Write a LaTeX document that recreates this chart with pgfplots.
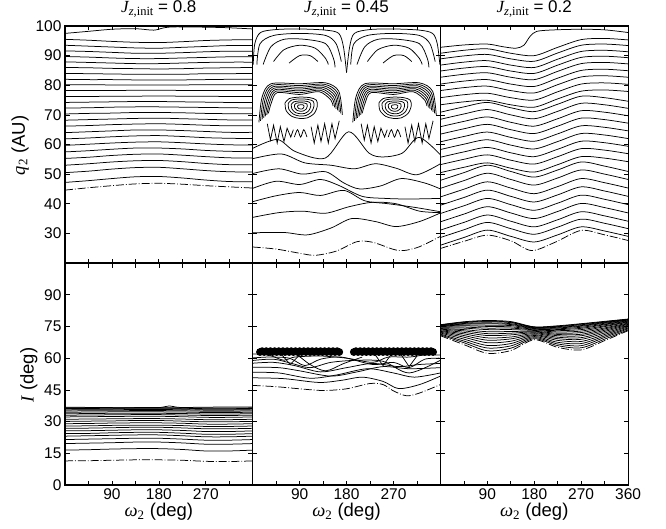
\documentclass[border=0pt]{standalone}
\usepackage{fontspec}
\setmainfont{Liberation Sans}
\newfontfamily\tms{Liberation Serif}
\usepackage{pgfplots}
\pgfplotsset{compat=1.18}
\newcommand{\jt}[1]{\fontsize{17}{19}\selectfont{\tms\itshape J}{\tms\fontsize{12.5}{13}\selectfont\raisebox{-0.6ex}{\itshape z\upshape ,init}} = #1}
\newcommand{\lb}{\fontsize{18.5}{20}\selectfont}
\pgfplotsset{
  panel/.style={
    scale only axis, width=187.7pt, anchor=north west,
    xmin=0, xmax=360, xtick={0,45,...,360},
    tick align=inside, major tick length=4.5pt,
    axis line style={line width=1.1pt},
    every tick/.style={black, line width=0.7pt},
    every tick label/.append style={font=\fontsize{15.5}{17}\selectfont},
    every axis title/.append style={yshift=-1pt},
    every axis x label/.append style={yshift=3pt},
    every axis y label/.append style={xshift=-1pt},
    /pgf/number format/assume math mode=true,
    cycle list={{black,solid,mark=none}},
    every axis plot/.append style={black, line width=0.75pt, smooth},
  },
  toprow/.style={panel, height=237pt, ymin=20, ymax=100, ytick={20,30,...,100}, xticklabels={}},
  botrow/.style={panel, height=222pt, ymin=0, ymax=105, ytick={0,15,...,90}},
  dd/.style={dash pattern=on 8pt off 2pt on 0.8pt off 2pt},
}
\begin{document}
\begin{tikzpicture}
\path[use as bounding box] (0,0) rectangle (666pt,-529pt);
% ---------------- A1 ----------------
\begin{axis}[toprow, at={(65pt,-26pt)}, yticklabels={,30,40,50,60,70,80,90,100},
  ylabel={\lb{\tms\itshape q}{\tms\textsubscript{2}} (AU)}, title={\jt{0.8}}]
\addplot coordinates {(0,47.2)(45,47.8)(90,48.5)(135,49.1)(180,49.2)(225,48.7)(270,48.0)(315,47.5)(360,47.4)};
\addplot coordinates {(0,50.5)(45,51.0)(90,51.7)(135,52.2)(180,52.3)(225,51.8)(270,51.2)(315,50.8)(360,50.7)};
\addplot coordinates {(0,53.0)(45,53.5)(90,54.1)(135,54.5)(180,54.6)(225,54.2)(270,53.6)(315,53.2)(360,53.2)};
\addplot coordinates {(0,55.3)(45,55.7)(90,56.3)(135,56.7)(180,56.8)(225,56.4)(270,55.9)(315,55.5)(360,55.4)};
\addplot coordinates {(0,57.5)(45,57.9)(90,58.4)(135,58.8)(180,58.8)(225,58.5)(270,58.0)(315,57.7)(360,57.6)};
\addplot coordinates {(0,59.7)(45,60.1)(90,60.5)(135,60.8)(180,60.9)(225,60.6)(270,60.2)(315,59.9)(360,59.8)};
\addplot coordinates {(0,61.9)(45,62.2)(90,62.6)(135,62.9)(180,63.0)(225,62.7)(270,62.3)(315,62.1)(360,62.0)};
\addplot coordinates {(0,64.0)(45,64.3)(90,64.6)(135,64.9)(180,64.9)(225,64.7)(270,64.4)(315,64.1)(360,64.1)};
\addplot coordinates {(0,66.2)(45,66.4)(90,66.7)(135,66.9)(180,67.0)(225,66.8)(270,66.5)(315,66.3)(360,66.3)};
\addplot coordinates {(0,68.2)(45,68.4)(90,68.6)(135,68.8)(180,68.9)(225,68.7)(270,68.5)(315,68.3)(360,68.3)};
\addplot coordinates {(0,70.3)(45,70.5)(90,70.6)(135,70.8)(180,70.8)(225,70.7)(270,70.5)(315,70.4)(360,70.4)};
\addplot coordinates {(0,72.3)(45,72.4)(90,72.6)(135,72.7)(180,72.7)(225,72.6)(270,72.5)(315,72.4)(360,72.3)};
\addplot coordinates {(0,74.2)(45,74.3)(90,74.4)(135,74.5)(180,74.5)(225,74.4)(270,74.3)(315,74.2)(360,74.2)};
\addplot coordinates {(0,76.2)(45,76.2)(90,76.3)(135,76.3)(180,76.4)(225,76.3)(270,76.3)(315,76.2)(360,76.2)};
\addplot coordinates {(0,78.2)(90,78.25)(180,78.3)(270,78.2)(360,78.2)};
\addplot coordinates {(0,80.2)(45,80.2)(90,80.1)(135,80.1)(180,80.1)(225,80.1)(270,80.2)(315,80.2)(360,80.2)};
\addplot coordinates {(0,82.0)(45,81.9)(90,81.9)(135,81.8)(180,81.8)(225,81.8)(270,81.9)(315,82.0)(360,82.0)};
\addplot coordinates {(0,84.0)(45,83.9)(90,83.8)(135,83.7)(180,83.7)(225,83.7)(270,83.9)(315,83.9)(360,84.0)};
\addplot coordinates {(0,86.0)(45,85.9)(90,85.7)(135,85.6)(180,85.5)(225,85.6)(270,85.8)(315,85.9)(360,86.0)};
\addplot coordinates {(0,87.9)(45,87.7)(90,87.5)(135,87.3)(180,87.3)(225,87.5)(270,87.7)(315,87.8)(360,87.8)};
\addplot coordinates {(0,89.7)(45,89.5)(90,89.2)(135,89.0)(180,89.0)(225,89.2)(270,89.4)(315,89.6)(360,89.6)};
\addplot coordinates {(0,91.6)(45,91.4)(90,91.1)(135,90.8)(180,90.8)(225,91.0)(270,91.3)(315,91.5)(360,91.5)};
\addplot coordinates {(0,93.5)(45,93.2)(90,92.9)(135,92.6)(180,92.5)(225,92.8)(270,93.1)(315,93.4)(360,93.4)};
\addplot coordinates {(0,95.5)(45,95.2)(90,94.8)(135,94.5)(180,94.4)(225,94.7)(270,95.1)(315,95.3)(360,95.4)};
\addplot coordinates {(0,97.5)(45,98.2)(90,98.9)(135,99.1)(170,98.6)(190,99.4)(210,99.7)(270,99.6)(315,99.4)(360,99.0)};
\addplot[dd] coordinates {(0,44.6)(45,45.4)(90,46.1)(135,46.7)(180,46.9)(225,46.6)(270,46.1)(315,45.7)(360,45.3)};
\end{axis}
% ---------------- A2 ----------------
\begin{axis}[toprow, at={(252.7pt,-26pt)}, yticklabels={}, title={\jt{0.45}}]
\addplot coordinates {(0,30.2)(60,30.3)(105,29.5)(150,31.8)(190,35.0)(235,34.0)(275,32.3)(320,34.0)(360,36.9)};
\addplot coordinates {(0,35.4)(50,37.0)(95,37.5)(140,36.8)(185,39.0)(230,40.5)(275,40.0)(320,37.5)(360,37.0)};
\addplot coordinates {(0,40.7)(45,42.7)(90,43.8)(130,42.8)(175,44.5)(215,41.0)(260,40.0)(310,38.8)(360,37.3)};
\addplot coordinates {(0,45.2)(45,47.6)(90,46.5)(130,48.2)(165,46.2)(210,42.5)(255,41.8)(300,41.6)(360,41.8)};
\addplot coordinates {(0,50.2)(50,51.8)(95,50.0)(140,50.8)(175,47.0)(205,45.0)(245,46.0)(285,48.5)(330,47.0)(360,45.0)};
\addplot coordinates {(0,55.2)(55,56.8)(100,53.8)(150,53.0)(195,51.8)(235,53.5)(275,52.0)(315,49.8)(360,53.5)};
\addplot coordinates {(0,58.7)(47,61.7)(82,57.6)(139,55.4)(184,64.3)(223,57.1)(250,55.8)(287,57.1)(319,62.4)(360,56.5)};
\addplot[dd] coordinates {(0,25.4)(45,24.7)(90,23.3)(120,22.6)(160,24.0)(200,27.2)(230,27.0)(270,24.6)(290,24.2)(320,25.5)(360,29.0)};
\addplot[sharp plot] coordinates {(28,67)(34,61.5)(40,66.5)(47,60.5)(53,66)(60,61)(66,65.5)(73,62.5)(78,65)};
\addplot[sharp plot] coordinates {(112,66)(118,60.5)(125,66.5)(131,61)(138,67)(145,60.5)(152,67)(158,62)(166,68)};
\addplot coordinates {(80,62.5)(86,65)(92,62.5)(98,65)(104,62.5)};
\addplot[sharp plot] coordinates {(208,67)(214,61.5)(220,66.5)(227,60.5)(233,66)(240,61)(246,65.5)(253,62.5)(258,65)};
\addplot[sharp plot] coordinates {(292,66)(298,60.5)(305,66.5)(311,61)(318,67)(325,60.5)(332,67)(338,62)(346,68)};
\addplot coordinates {(260,62.5)(266,65)(272,62.5)(278,65)(284,62.5)};
\addplot coordinates {(62,74)(70,75.5)(90,76)(110,75.8)(122,75)(124,73)(118,70.5)(105,69)(90,68.8)(75,69.5)(64,71.5)(62,74)};
\addplot coordinates {(68,73.8)(74.4,75.0)(90.4,75.4)(106.4,75.2)(116,74.6)(117.6,73.0)(112.8,71.0)(102.4,69.8)(90.4,69.6)(78.4,70.2)(69.6,71.8)(68,73.8)};
\addplot coordinates {(74,73.5)(78.8,74.4)(90.8,74.7)(102.8,74.6)(110,74.1)(111.2,72.9)(107.6,71.4)(99.8,70.5)(90.8,70.4)(81.8,70.8)(75.2,72.0)(74,73.5)};
\addplot coordinates {(80,73.3)(83.2,73.9)(91.2,74.1)(99.2,74.0)(104,73.7)(104.8,72.9)(102.4,71.9)(97.2,71.3)(91.2,71.2)(85.2,71.5)(80.8,72.3)(80,73.3)};
\addplot coordinates {(86,73.0)(87.6,73.3)(91.6,73.4)(95.6,73.4)(98,73.2)(98.4,72.8)(97.2,72.3)(94.6,72.0)(91.6,72.0)(88.6,72.1)(86.4,72.5)(86,73.0)};
\addplot coordinates {(242,74)(250,75.5)(270,76)(290,75.8)(302,75)(304,73)(298,70.5)(285,69)(270,68.8)(255,69.5)(244,71.5)(242,74)};
\addplot coordinates {(248,73.8)(254.4,75.0)(270.4,75.4)(286.4,75.2)(296,74.6)(297.6,73.0)(292.8,71.0)(282.4,69.8)(270.4,69.6)(258.4,70.2)(249.6,71.8)(248,73.8)};
\addplot coordinates {(254,73.5)(258.8,74.4)(270.8,74.7)(282.8,74.6)(290,74.1)(291.2,72.9)(287.6,71.4)(279.8,70.5)(270.8,70.4)(261.8,70.8)(255.2,72.0)(254,73.5)};
\addplot coordinates {(260,73.3)(263.2,73.9)(271.2,74.1)(279.2,74.0)(284,73.7)(284.8,72.9)(282.4,71.9)(277.2,71.3)(271.2,71.2)(265.2,71.5)(260.8,72.3)(260,73.3)};
\addplot coordinates {(266,73.0)(267.6,73.3)(271.6,73.4)(275.6,73.4)(278,73.2)(278.4,72.8)(277.2,72.3)(274.6,72.0)(271.6,72.0)(268.6,72.1)(266.4,72.5)(266,73.0)};
\addplot coordinates {(12,67.5)(18,76)(35,80.5)(90,80.5)(140,80.8)(165,78)(172,70)};
\addplot coordinates {(15,68)(21,75.7)(37,80)(90,79.9)(138,80.3)(162.5,77.5)(169,70.5)};
\addplot coordinates {(18,68.5)(24,75.4)(39,79.5)(90,79.3)(136,79.8)(160,77)(166,71)};
\addplot coordinates {(21,69)(27,75.1)(41,79)(90,78.7)(134,79.3)(157.5,76.5)(163,71.5)};
\addplot coordinates {(24,69.5)(30,74.8)(43,78.5)(90,78.1)(132,78.8)(155,76)(160,72)};
\addplot coordinates {(27,70)(33,74.5)(45,78)(90,77.5)(130,78.3)(152.5,75.5)(157,72.5)};
\addplot coordinates {(30,70.5)(36,74.2)(47,77.5)(90,76.9)(128,77.8)(150,75)(154,73)};
\addplot coordinates {(192,67.5)(198,76)(215,80.5)(270,80.5)(320,80.8)(345,78)(352,70)};
\addplot coordinates {(195,68)(201,75.7)(217,80)(270,79.9)(318,80.3)(342.5,77.5)(349,70.5)};
\addplot coordinates {(198,68.5)(204,75.4)(219,79.5)(270,79.3)(316,79.8)(340,77)(346,71)};
\addplot coordinates {(201,69)(207,75.1)(221,79)(270,78.7)(314,79.3)(337.5,76.5)(343,71.5)};
\addplot coordinates {(204,69.5)(210,74.8)(223,78.5)(270,78.1)(312,78.8)(335,76)(340,72)};
\addplot coordinates {(207,70)(213,74.5)(225,78)(270,77.5)(310,78.3)(332.5,75.5)(337,72.5)};
\addplot coordinates {(210,70.5)(216,74.2)(227,77.5)(270,76.9)(308,77.8)(330,75)(334,73)};
\addplot coordinates {(1,87)(4,94)(15,97.8)(45,98.8)(90,99)(140,98.6)(165,97.5)(174,93)(180,84.3)};
\addplot coordinates {(180,84.3)(186,93)(195,97.5)(225,98.8)(270,99)(320,98.6)(345,97.5)(354,94)(359,87)};
\addplot coordinates {(8,87)(14,94)(40,96.8)(90,97.5)(140,96.8)(160,94)(170,88)};
\addplot coordinates {(20,87)(35,93)(60,95.5)(100,95.5)(140,94)(155,89)(158,86)};
\addplot coordinates {(40,88)(60,92)(90,93.5)(120,92.5)(140,89)(145,87)};
\addplot coordinates {(70,87.5)(90,90)(110,90)(125,88)};
\addplot coordinates {(188,87)(194,94)(220,96.8)(270,97.5)(320,96.8)(340,94)(350,88)};
\addplot coordinates {(200,87)(215,93)(240,95.5)(280,95.5)(320,94)(335,89)(338,86)};
\addplot coordinates {(220,88)(240,92)(270,93.5)(300,92.5)(320,89)(325,87)};
\addplot coordinates {(250,87.5)(270,90)(290,90)(305,88)};
\end{axis}
% ---------------- A3 ----------------
\begin{axis}[toprow, at={(440.4pt,-26pt)}, yticklabels={}, title={\jt{0.2}}]
\addplot coordinates {(0,26.0)(45,28.6)(90,31.1)(135,29.0)(180,27.1)(225,29.5)(270,32.2)(315,30.8)(360,29.0)};
\addplot coordinates {(0,28.6)(45,31.2)(90,33.7)(135,31.6)(180,29.7)(225,32.1)(270,34.8)(315,33.4)(360,31.6)};
\addplot coordinates {(0,31.1)(45,33.7)(90,36.2)(135,34.1)(180,32.2)(225,34.6)(270,37.3)(315,35.9)(360,34.1)};
\addplot coordinates {(0,33.9)(45,36.5)(90,39.0)(135,36.9)(180,35.0)(225,37.4)(270,40.1)(315,38.7)(360,36.9)};
\addplot coordinates {(0,36.7)(45,39.3)(90,41.8)(135,39.7)(180,37.8)(225,40.2)(270,42.9)(315,41.5)(360,39.7)};
\addplot coordinates {(0,39.5)(45,42.1)(90,44.6)(135,42.5)(180,40.6)(225,43.0)(270,45.7)(315,44.3)(360,42.5)};
\addplot coordinates {(0,42.3)(45,44.9)(90,47.4)(135,45.3)(180,43.4)(225,45.8)(270,48.5)(315,47.1)(360,45.3)};
\addplot coordinates {(0,45.2)(45,47.8)(90,50.3)(135,48.2)(180,46.3)(225,48.7)(270,51.4)(315,50.0)(360,48.2)};
\addplot coordinates {(0,47.9)(45,50.5)(90,53.0)(135,50.9)(180,49.0)(225,51.4)(270,54.1)(315,52.7)(360,50.9)};
\addplot coordinates {(0,50.5)(45,52.3)(90,53.8)(135,52.0)(180,50.7)(225,53.2)(270,55.9)(315,55.4)(360,54.2)};
\addplot coordinates {(0,53.2)(45,55.0)(90,56.5)(135,54.7)(180,53.4)(225,55.9)(270,58.6)(315,58.1)(360,56.9)};
\addplot coordinates {(0,55.7)(45,57.5)(90,59.0)(135,57.2)(180,55.9)(225,58.4)(270,61.1)(315,60.6)(360,59.4)};
\addplot coordinates {(0,58.3)(45,60.1)(90,61.6)(135,59.8)(180,58.5)(225,61.0)(270,63.7)(315,63.2)(360,62.0)};
\addplot coordinates {(0,60.9)(45,62.7)(90,64.2)(135,62.4)(180,61.1)(225,63.6)(270,66.3)(315,65.8)(360,64.6)};
\addplot coordinates {(0,63.5)(45,65.3)(90,66.8)(135,65.0)(180,63.7)(225,66.2)(270,68.9)(315,68.4)(360,67.2)};
\addplot coordinates {(0,66.0)(45,67.8)(90,69.3)(135,67.5)(180,66.2)(225,68.7)(270,71.4)(315,70.9)(360,69.7)};
\addplot coordinates {(0,68.5)(45,70.3)(90,71.8)(135,70.0)(180,68.7)(225,71.2)(270,73.9)(315,73.4)(360,72.2)};
\addplot coordinates {(0,70.9)(45,72.7)(90,74.2)(135,72.4)(180,71.1)(225,73.6)(270,76.3)(315,75.8)(360,74.6)};
\addplot coordinates {(0,73.4)(45,74.4)(90,74.9)(135,73.4)(180,72.6)(225,75.4)(270,78.0)(315,78.4)(360,77.9)};
\addplot coordinates {(0,75.8)(45,76.8)(90,77.3)(135,75.8)(180,75.0)(225,77.8)(270,80.4)(315,80.8)(360,80.3)};
\addplot coordinates {(0,78.2)(45,79.2)(90,79.7)(135,78.2)(180,77.4)(225,80.2)(270,82.8)(315,83.2)(360,82.7)};
\addplot coordinates {(0,80.4)(45,81.4)(90,81.9)(135,80.4)(180,79.6)(225,82.4)(270,85.0)(315,85.4)(360,84.9)};
\addplot coordinates {(0,82.7)(45,83.7)(90,84.2)(135,82.7)(180,81.9)(225,84.7)(270,87.3)(315,87.7)(360,87.2)};
\addplot coordinates {(0,84.8)(45,85.8)(90,86.3)(135,84.8)(180,84.0)(225,86.8)(270,89.4)(315,89.8)(360,89.3)};
\addplot coordinates {(0,86.8)(45,87.8)(90,88.3)(135,86.8)(180,86.0)(225,88.8)(270,91.4)(315,91.8)(360,91.3)};
\addplot coordinates {(0,88.9)(45,89.9)(90,90.4)(135,88.9)(180,88.1)(225,90.9)(270,93.5)(315,93.9)(360,93.4)};
\addplot coordinates {(0,90.8)(45,91.8)(90,92.3)(135,90.8)(180,90.0)(225,92.8)(270,95.4)(315,95.8)(360,95.3)};
\addplot coordinates {(0,92.8)(45,93.6)(90,93.9)(120,93.0)(145,92.5)(160,93.5)(172,96.5)(185,98.2)(220,98.7)(270,98.9)(315,98.7)(360,97.8)};
\addplot[dd] coordinates {(0,24.9)(45,27.3)(90,29.4)(135,27.5)(175,24.2)(220,27.0)(270,31.0)(315,29.5)(360,27.6)};
\end{axis}
% ---------------- B1 ----------------
\begin{axis}[botrow, at={(65pt,-263pt)}, yticklabels={0,15,30,45,60,75,90},
  xticklabels={,,90,,180,,270,,}, ylabel={\lb{\tms\itshape I} (deg)},
  xlabel={\lb{\tms\itshape ω}{\tms\textsubscript{2}} (deg)}]
\addplot coordinates {(0,16.5)(45,16.7)(90,17.0)(135,17.2)(180,17.2)(225,16.8)(270,16.1)(315,16.1)(360,16.5)};
\addplot coordinates {(0,19.6)(45,19.8)(90,20.0)(135,20.3)(180,20.3)(225,19.9)(270,19.3)(315,19.3)(360,19.6)};
\addplot coordinates {(0,21.5)(45,21.7)(90,21.9)(135,22.1)(180,22.1)(225,21.7)(270,21.2)(315,21.2)(360,21.5)};
\addplot coordinates {(0,23.1)(45,23.3)(90,23.5)(135,23.7)(180,23.7)(225,23.3)(270,22.8)(315,22.8)(360,23.1)};
\addplot coordinates {(0,24.3)(45,24.4)(90,24.7)(135,24.9)(180,24.9)(225,24.5)(270,24.0)(315,24.0)(360,24.3)};
\addplot coordinates {(0,25.6)(45,25.7)(90,25.9)(135,26.1)(180,26.1)(225,25.8)(270,25.3)(315,25.3)(360,25.6)};
\addplot coordinates {(0,26.8)(45,26.9)(90,27.1)(135,27.3)(180,27.3)(225,27.0)(270,26.6)(315,26.6)(360,26.8)};
\addplot coordinates {(0,27.9)(45,28.0)(90,28.2)(135,28.3)(180,28.3)(225,28.1)(270,27.7)(315,27.7)(360,27.9)};
\addplot coordinates {(0,29.0)(45,29.1)(90,29.3)(135,29.4)(180,29.4)(225,29.2)(270,28.8)(315,28.8)(360,29.0)};
\addplot coordinates {(0,30.1)(45,30.2)(90,30.3)(135,30.5)(180,30.5)(225,30.2)(270,29.9)(315,29.9)(360,30.1)};
\addplot coordinates {(0,31.1)(45,31.2)(90,31.3)(135,31.4)(180,31.4)(225,31.2)(270,30.9)(315,30.9)(360,31.1)};
\addplot coordinates {(0,32.2)(45,32.3)(90,32.4)(135,32.5)(180,32.5)(225,32.3)(270,32.0)(315,32.0)(360,32.2)};
\addplot coordinates {(0,33.0)(45,33.1)(90,33.2)(135,33.3)(180,33.3)(225,33.1)(270,32.9)(315,32.9)(360,33.0)};
\addplot coordinates {(0,33.7)(45,33.8)(90,33.9)(135,33.9)(180,33.9)(225,33.8)(270,33.6)(315,33.6)(360,33.7)};
\addplot coordinates {(0,34.4)(45,34.5)(90,34.6)(135,34.6)(180,34.6)(225,34.5)(270,34.3)(315,34.3)(360,34.4)};
\addplot coordinates {(0,35.0)(45,35.1)(90,35.1)(135,35.2)(180,35.2)(225,35.1)(270,34.9)(315,34.9)(360,35.0)};
\addplot coordinates {(0,35.5)(45,35.6)(90,35.6)(135,35.7)(180,35.7)(225,35.6)(270,35.4)(315,35.4)(360,35.5)};
\addplot coordinates {(0,35.9)(45,35.9)(90,36.0)(135,36.1)(180,36.1)(225,36.0)(270,35.8)(315,35.8)(360,35.9)};
\addplot coordinates {(0,36.2)(45,36.2)(90,36.3)(135,36.4)(180,36.4)(225,36.3)(270,36.1)(315,36.1)(360,36.2)};
\addplot coordinates {(0,36.5)(45,36.5)(90,36.5)(135,36.6)(180,36.6)(225,36.5)(270,36.4)(315,36.4)(360,36.5)};
\addplot coordinates {(0,36.8)(45,36.7)(90,36.6)(135,36.5)(180,36.6)(200,37.4)(220,36.7)(270,36.8)(315,36.9)(360,36.9)};
\addplot[dd] coordinates {(0,11.4)(45,11.5)(90,11.7)(135,11.9)(180,11.9)(225,11.7)(270,11.2)(315,11.1)(360,11.4)};
\end{axis}
% ---------------- B2 ----------------
\begin{axis}[botrow, at={(252.7pt,-263pt)}, yticklabels={},
  xticklabels={,,90,,180,,270,,}, xlabel={\lb{\tms\itshape ω}{\tms\textsubscript{2}} (deg)}]
\addplot coordinates {(0,50.7)(60,50.3)(127,48.5)(170,49.5)(210,51.0)(250,49.0)(280,45.6)(320,47.5)(360,51.5)};
\addplot coordinates {(0,53.3)(50,53.0)(110,50.5)(160,52.0)(220,55.0)(270,53.0)(310,51.0)(360,53.0)};
\addplot coordinates {(0,55.7)(50,55.5)(90,54.0)(150,51.5)(200,53.5)(250,56.0)(300,55.0)(360,55.5)};
\addplot coordinates {(0,57.6)(40,58.0)(80,56.5)(130,53.5)(180,55.5)(230,57.5)(280,56.0)(320,57.0)(360,57.5)};
\addplot coordinates {(0,58.9)(40,59.5)(75,57.5)(110,55.5)(150,58.0)(200,59.0)(250,58.5)(300,53.0)(360,59.0)};
\addplot coordinates {(0,60.1)(30,60.5)(70,60.0)(100,56.5)(130,59.5)(170,60.5)(230,57.0)(270,58.0)(300,55.5)(330,59.5)(360,60.0)};
\addplot coordinates {(0,62.0)(30,61.5)(60,59.0)(80,60.5)(130,61.0)(180,60.0)(230,58.0)(260,60.5)(300,60.5)(330,61.5)(360,61.5)};
\addplot[sharp plot] coordinates {(55,61.8)(72,57.0)(90,61.5)};
\addplot[sharp plot] coordinates {(235,61.5)(250,56.5)(265,61.5)};
\addplot[sharp plot] coordinates {(285,61.5)(300,56.0)(315,61.0)};
\addplot coordinates {(85,61.8)(110,57.0)(140,54.0)(175,57.5)(210,60.5)};
\addplot[dd] coordinates {(0,47.1)(45,46.5)(90,45.5)(135,44.7)(180,45.5)(225,48.0)(250,47.5)(270,44.5)(295,42.2)(320,43.5)(360,47.5)};
\addplot[only marks, mark=*, mark size=3.5pt] coordinates {
(14,62.9)(18,63.3)(22,62.9)(26,63.3)(30,62.9)(34,63.3)(38,62.9)(42,63.3)(46,62.9)(50,63.3)
(54,62.9)(58,63.3)(62,62.9)(66,63.3)(70,62.9)(74,63.3)(78,62.9)(82,63.3)(86,62.9)(90,63.3)
(94,62.9)(98,63.3)(102,62.9)(106,63.3)(110,62.9)(114,63.3)(118,62.9)(122,63.3)(126,62.9)(130,63.3)
(134,62.9)(138,63.3)(142,62.9)(146,63.3)(150,62.9)(154,63.3)(158,62.9)(162,63.3)(166,62.9)
(194,62.9)(198,63.3)(202,62.9)(206,63.3)(210,62.9)(214,63.3)(218,62.9)(222,63.3)(226,62.9)(230,63.3)
(234,62.9)(238,63.3)(242,62.9)(246,63.3)(250,62.9)(254,63.3)(258,62.9)(262,63.3)(266,62.9)(270,63.3)
(274,62.9)(278,63.3)(282,62.9)(286,63.3)(290,62.9)(294,63.3)(298,62.9)(302,63.3)(306,62.9)(310,63.3)
(314,62.9)(318,63.3)(322,62.9)(326,63.3)(330,62.9)(334,63.3)(338,62.9)(342,63.3)(346,62.9)};
\end{axis}
% ---------------- B3 ----------------
\begin{axis}[botrow, at={(440.4pt,-263pt)}, yticklabels={},
  xticklabels={,,90,,180,,270,,360}, xlabel={\lb{\tms\itshape ω}{\tms\textsubscript{2}} (deg)}]
\addplot coordinates {(0,71.0)(45,67.3)(90,63.5)(135,64.7)(180,69.2)(225,65.9)(270,64.9)(315,69.0)(360,73.4)};
\addplot coordinates {(0,71.4)(45,68.1)(90,64.8)(135,65.8)(180,69.7)(225,66.7)(270,65.9)(315,69.8)(360,73.9)};
\addplot coordinates {(0,71.9)(45,69.0)(90,66.0)(135,66.9)(180,70.2)(225,67.5)(270,66.9)(315,70.5)(360,74.3)};
\addplot coordinates {(0,72.3)(45,69.9)(90,67.3)(135,68.0)(180,70.7)(225,68.4)(270,67.9)(315,71.2)(360,74.8)};
\addplot coordinates {(0,72.7)(45,70.7)(90,68.5)(135,69.1)(180,71.1)(225,69.2)(270,68.9)(315,71.9)(360,75.2)};
\addplot coordinates {(0,73.0)(45,71.5)(90,69.6)(135,70.0)(180,71.6)(225,69.9)(270,69.7)(315,72.6)(360,75.6)};
\addplot coordinates {(0,73.4)(45,72.2)(90,70.7)(135,71.0)(180,72.0)(225,70.6)(270,70.6)(315,73.2)(360,76.0)};
\addplot coordinates {(0,73.7)(45,72.9)(90,71.6)(135,71.8)(180,72.4)(225,71.2)(270,71.3)(315,73.8)(360,76.3)};
\addplot coordinates {(0,74.0)(45,73.5)(90,72.5)(135,72.6)(180,72.7)(225,71.8)(270,72.1)(315,74.3)(360,76.6)};
\addplot coordinates {(0,74.3)(45,74.2)(90,73.5)(135,73.5)(180,73.1)(225,72.4)(270,72.8)(315,74.9)(360,77.0)};
\addplot coordinates {(0,74.6)(45,74.7)(90,74.2)(135,74.2)(180,73.4)(225,73.0)(270,73.5)(315,75.3)(360,77.2)};
\addplot coordinates {(0,74.9)(45,75.3)(90,75.0)(135,74.8)(180,73.7)(225,73.5)(270,74.1)(315,75.8)(360,77.5)};
\addplot coordinates {(0,75.1)(45,75.7)(90,75.6)(135,75.4)(180,74.0)(225,73.9)(270,74.6)(315,76.1)(360,77.7)};
\addplot coordinates {(0,75.3)(45,76.1)(90,76.3)(135,75.9)(180,74.2)(225,74.3)(270,75.1)(315,76.5)(360,78.0)};
\addplot coordinates {(0,75.4)(45,76.4)(90,76.7)(135,76.3)(180,74.4)(225,74.6)(270,75.4)(315,76.8)(360,78.1)};
\addplot coordinates {(0,75.6)(45,76.8)(90,77.2)(135,76.8)(180,74.6)(225,74.9)(270,75.8)(315,77.0)(360,78.3)};
\addplot coordinates {(0,75.7)(45,77.0)(90,77.5)(135,77.0)(180,74.7)(225,75.1)(270,76.1)(315,77.2)(360,78.4)};
\addplot coordinates {(0,75.8)(45,77.2)(90,77.8)(135,77.3)(180,74.8)(225,75.3)(270,76.3)(315,77.4)(360,78.5)};
\addplot[dd] coordinates {(0,70.6)(45,66.4)(90,62.3)(135,63.6)(180,68.7)(225,65.1)(270,63.9)(315,68.3)(360,73.0)};
\end{axis}
\end{tikzpicture}
\end{document}
